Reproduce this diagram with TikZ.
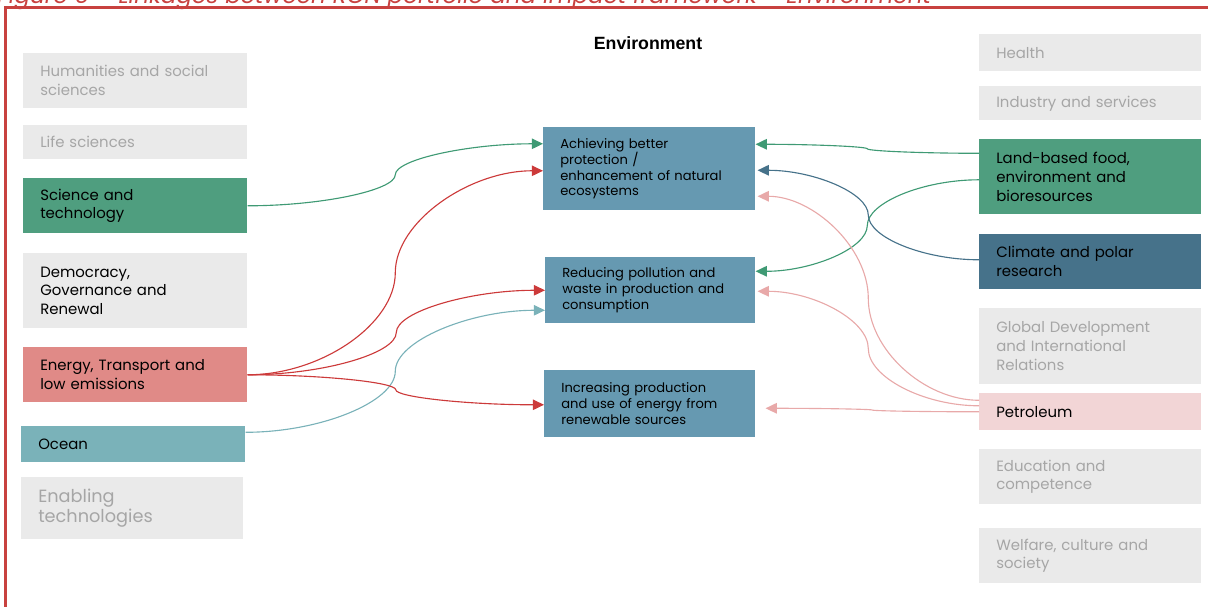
\documentclass[tikz,border=0pt]{standalone}
\usepackage{fontspec}
\setmainfont{Poppins}
\newfontfamily\titlefont{Liberation Sans}
\usetikzlibrary{calc}
\usetikzlibrary{arrows.meta}
\newlength{\px}
\setlength{\px}{0.025cm}
\definecolor{boxgray}{HTML}{EAEAEA}
\definecolor{textgray}{HTML}{A6A6A6}
\definecolor{sgreen}{HTML}{4F9E7F}
\definecolor{lgreen}{HTML}{3F9A74}
\definecolor{ered}{HTML}{E08A87}
\definecolor{lred}{HTML}{CC3A3A}
\definecolor{oteal}{HTML}{7AB2B9}
\definecolor{goalblue}{HTML}{6699B1}
\definecolor{cblue}{HTML}{46728A}
\definecolor{ppink}{HTML}{F2D5D6}
\definecolor{lpink}{HTML}{E8A9A9}
\definecolor{framered}{HTML}{C8413F}
\tikzstyle{box} = [anchor=north west,
inner xsep=17\px, inner ysep=0pt,
align=left, text width=190\px, minimum width=224\px,
font=\fontsize{10.6}{13.4}\selectfont]
\tikzstyle{greybox} = [box, fill=boxgray, text=textgray]
\tikzstyle{goal} = [box, fill=goalblue, text width=178\px, minimum width=212\px,
font=\fontsize{9.3}{11.3}\selectfont]
\tikzstyle{link} = [line width=0.8pt, -{Triangle[length=8pt,width=7.5pt]}]
% two halves, level ends and an upright middle
\tikzstyle{sbend} = [to path={let \p1=(\tikztostart), \p2=(\tikztotarget) in
.. controls ({0.75*\x1+0.25*\x2},\y1) and ({0.5*\x1+0.5*\x2},{0.75*\y1+0.25*\y2})
.. ({0.5*\x1+0.5*\x2},{0.5*\y1+0.5*\y2})
.. controls ({0.5*\x1+0.5*\x2},{0.25*\y1+0.75*\y2}) and ({0.25*\x1+0.75*\x2},\y2)
.. (\tikztotarget) \tikztonodes}]

\begin{document}
\begin{tikzpicture}[x=1\px, y=-1\px]
    \useasboundingbox (0,0) rectangle (1208,606);

    % frame and caption
    \node[anchor=base west, text=framered, inner sep=0pt,
        font=\fontsize{16.4}{18}\selectfont\itshape] (caption) at (-3,3)
        {Figure 6 -- Linkages between RCN portfolio and impact framework -- Environment};
    \draw[framered, line width=1.8pt] (5.5,630) -- (5.5,7.5) -- (1220,7.5);

    \node[font=\titlefont\fontsize{12.6}{14}\selectfont\bfseries] (title) at (648,43) {Environment};

    % left portfolio
    \node[greybox, minimum height=55\px] (hum) at (23,53) {Humanities and social\\sciences};
    \node[greybox, minimum height=34\px] (life) at (23,125) {Life sciences};
    \node[box, fill=sgreen, minimum height=55\px] (sci) at (23,178) {Science and\\technology};
    \node[box, fill=boxgray, minimum height=75\px] (demo) at (23,253) {Democracy,\\Governance and\\Renewal};
    \node[box, fill=ered, minimum height=55\px] (energy) at (23,347) {Energy, Transport and\\low emissions};
    \node[box, fill=oteal, minimum height=36\px] (ocean) at (21,426) {Ocean};
    \node[greybox, text width=188\px, minimum width=222\px, minimum height=62\px,
        font=\fontsize{12.6}{14.2}\selectfont] (enab) at (21,477) {Enabling\\technologies};

    % impact goals
    \node[goal, minimum height=83\px] (ach) at (543,127) {Achieving better\\protection /\\enhancement of natural\\ecosystems};
    \node[goal, text width=176\px, minimum width=210\px, minimum height=66\px] (red) at (545,257) {Reducing pollution and\\waste in production and\\consumption};
    \node[goal, text width=177\px, minimum width=211\px, minimum height=67\px] (inc) at (544,370) {Increasing production\\and use of energy from\\renewable sources};

    % right portfolio
    \node[greybox, text width=188\px, minimum width=222\px, minimum height=37\px] (health) at (979,34) {Health};
    \node[greybox, text width=188\px, minimum width=222\px, minimum height=34\px] (industry) at (979,86) {Industry and services};
    \node[box, fill=sgreen, text width=188\px, minimum width=222\px, minimum height=75\px] (land) at (979,139) {Land-based food,\\environment and\\bioresources};
    \node[box, fill=cblue, text width=188\px, minimum width=222\px, minimum height=55\px] (climate) at (979,234) {Climate and polar\\research};
    \node[greybox, text width=188\px, minimum width=222\px, minimum height=76\px] (global) at (979,308) {Global Development\\and International\\Relations};
    \node[box, fill=ppink, text width=188\px, minimum width=222\px, minimum height=37\px] (petro) at (979,393) {Petroleum};
    \node[greybox, text width=188\px, minimum width=222\px, minimum height=55\px] (educ) at (979,449) {Education and\\competence};
    \node[greybox, text width=188\px, minimum width=222\px, minimum height=55\px] (welfare) at (979,528) {Welfare, culture and\\society};

    % links from the left
    \draw[link, lgreen] (sci.east) to[sbend] ($(ach.west)+(0,-25)$);
    \draw[link, oteal] ($(ocean.east)+(0,-12)$) to[sbend] ($(red.west)+(0,20)$);
    \draw[link, lred] (energy.east) to[sbend] ($(ach.west)+(0,2)$);
    \draw[link, lred] (energy.east) to[sbend] (red.west);
    \draw[link, lred] (energy.east) to[sbend] ($(inc.west)+(0,1)$);

    % links from the right
    \draw[link, lgreen] ($(land.west)+(0,-23.5)$) to[sbend] ($(ach.east)+(0,-24.5)$);
    \draw[link, lgreen] ($(land.west)+(0,3)$) to[sbend] ($(red.east)+(0,-19)$);
    \draw[link, cblue] ($(climate.west)+(0,-2)$) to[sbend] ($(ach.east)+(2,1.5)$);
    \draw[link, lpink] ($(petro.west)+(0,-11.5)$) to[sbend] ($(ach.east)+(2,27.5)$);
    \draw[link, lpink] ($(petro.west)+(0,-6)$) to[sbend] ($(red.east)+(2,1)$);
    \draw[link, lpink] (petro.west) to[sbend] ($(inc.east)+(10,4.5)$);

\end{tikzpicture}
\end{document}
